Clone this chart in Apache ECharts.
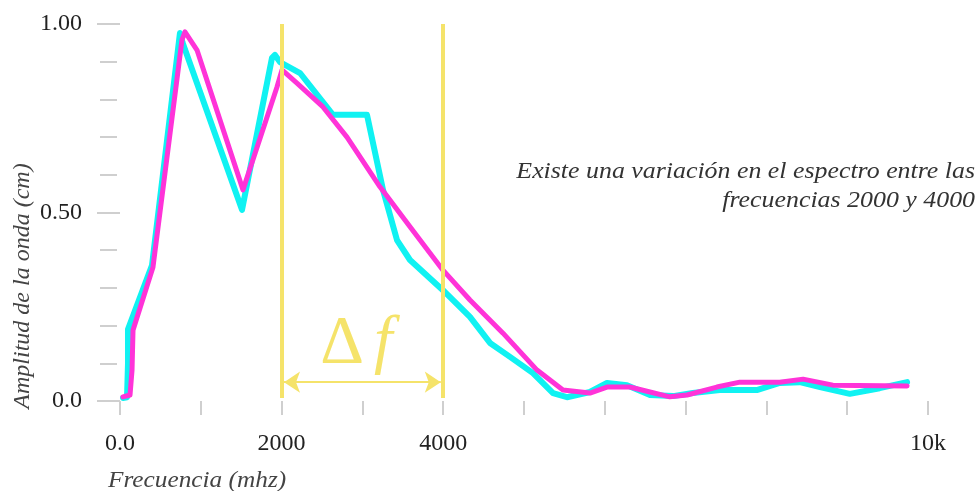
<!DOCTYPE html>
<html>
<head>
<meta charset="utf-8">
<script src="https://cdn.jsdelivr.net/npm/echarts@6/dist/echarts.min.js"></script>
<style>html,body{margin:0;padding:0;background:#fff;}#c{width:978px;height:491px;}</style>
</head>
<body>
<div id="c"></div>
<script>
// ---- data (frequency in mhz, amplitude in cm) ----
const cyanX = [37, 87, 99, 99, 396, 742, 775, 1510, 1881, 1918, 1980, 2228, 2636, 3057, 3255, 3428, 3589, 3997, 4331, 4579, 4827, 5111, 5359, 5532, 5816, 6027, 6275, 6559, 6844, 7088, 7422, 7881, 8165, 8414, 8664, 9033, 9402, 9741];
const cyanY = [0.008, 0.01, 0.1, 0.19, 0.36, 0.976, 0.95, 0.507, 0.91, 0.918, 0.899, 0.87, 0.759, 0.759, 0.56, 0.427, 0.374, 0.294, 0.223, 0.154, 0.117, 0.074, 0.021, 0.01, 0.024, 0.048, 0.042, 0.016, 0.013, 0.021, 0.029, 0.029, 0.048, 0.05, 0.037, 0.019, 0.034, 0.05];
const magentaX = [37, 124, 149, 161, 408, 767, 804, 953, 1522, 1943, 2005, 2190, 2512, 2809, 3217, 3589, 3997, 4331, 4740, 5161, 5482, 5816, 6027, 6310, 6559, 6804, 7018, 7387, 7671, 8165, 8454, 8823, 9741];
const magentaY = [0.011, 0.016, 0.082, 0.188, 0.355, 0.958, 0.979, 0.931, 0.56, 0.833, 0.878, 0.843, 0.78, 0.70, 0.568, 0.462, 0.347, 0.268, 0.18, 0.082, 0.029, 0.021, 0.037, 0.037, 0.024, 0.011, 0.016, 0.037, 0.05, 0.05, 0.058, 0.042, 0.04];
const bandStart = 2000, bandEnd = 4000, arrowY = 0.05;
const xTickValues = [0, 2000, 4000, 10000];
const xTickLabels = ['0.0', '2000', '4000', '10k'];
const yTickValues = [0, 0.5, 1];
const yTickLabels = ['0.0', '0.50', '1.00'];
const xName = 'Frecuencia (mhz)';
const yName = 'Amplitud de la onda (cm)';
const noteLines = ['Existe una variación en el espectro entre las', 'frecuencias 2000 y 4000'];

function pick(v, vals, labels) {
  for (let i = 0; i < vals.length; i++) if (Math.abs(v - vals[i]) < 1e-6) return labels[i];
  return '';
}
const zip = (xs, ys) => xs.map((x, i) => [x, ys[i]]);

const chart = echarts.init(document.getElementById('c'), null, {renderer: 'canvas'});
const serif = '"Liberation Serif", "Times New Roman", serif';
const yellow = '#f5e36a';
const tickColor = '#cfcfcf';

chart.setOption({
  animation: false,
  backgroundColor: '#ffffff',
  grid: {left: 120, right: 50, top: 24, bottom: 90},
  xAxis: {
    type: 'value', min: 0, max: 10000, interval: 1000, offset: 2,
    axisLine: {show: false},
    axisTick: {show: true, length: 14, lineStyle: {color: tickColor, width: 2}},
    splitLine: {show: false},
    axisLabel: {
      margin: 29, fontFamily: serif, fontSize: 24, color: '#222',
      formatter: v => pick(v, xTickValues, xTickLabels)
    }
  },
  yAxis: [{
    type: 'value', min: 0, max: 1, interval: 0.5, offset: 3,
    axisLine: {show: false},
    axisTick: {show: true, length: 23, lineStyle: {color: tickColor, width: 2}},
    splitLine: {show: false},
    axisLabel: {
      margin: 35, fontFamily: serif, fontSize: 24, color: '#222',
      formatter: v => pick(v, yTickValues, yTickLabels)
    }
  }, {
    type: 'value', min: 0, max: 1, interval: 0.1, offset: 3, position: 'left',
    axisLine: {show: false},
    axisTick: {show: true, length: 17, lineStyle: {color: tickColor, width: 2}},
    splitLine: {show: false},
    axisLabel: {show: false}
  }],
  series: [{
    type: 'line', name: 'cyan', data: zip(cyanX, cyanY), showSymbol: false,
    lineStyle: {color: '#10f2f2', width: 6, join: 'round', cap: 'round'},
    z: 3,
    markLine: {
      silent: true, symbol: ['none', 'none'], z: 10,
      lineStyle: {color: yellow, width: 4, type: 'solid'},
      label: {show: false},
      data: [
        [{coord: [bandStart, 0.008]}, {coord: [bandStart, 1]}],
        [{coord: [bandEnd, 0.008]}, {coord: [bandEnd, 1]}]
      ]
    }
  }, {
    type: 'line', name: 'magenta', data: zip(magentaX, magentaY), showSymbol: false,
    lineStyle: {color: '#ff33d8', width: 5, join: 'round', cap: 'round'},
    z: 4,
    markLine: {
      silent: true, symbol: ['arrow', 'arrow'], symbolSize: [16, 16],
      lineStyle: {color: yellow, width: 2, type: 'solid'},
      label: {
        show: true, position: 'middle', distance: 4, offset: [-6, 0],
        formatter: '{d|Δ}{f|f}',
        rich: {
          d: {fontFamily: serif, fontSize: 68, color: yellow, padding: [0, 10, 0, 0]},
          f: {fontFamily: serif, fontSize: 66, fontStyle: 'italic', color: yellow}
        }
      },
      data: [[{coord: [bandStart + 30, arrowY]}, {coord: [bandEnd - 30, arrowY]}]]
    }
  }],
  graphic: [
    {
      type: 'text', x: 23, y: 286, rotation: Math.PI / 2,
      style: {
        text: yName, fontFamily: serif, fontSize: 24, fontStyle: 'italic',
        fill: '#444', textAlign: 'center', textVerticalAlign: 'middle'
      }
    },
    {
      type: 'text', x: 108, y: 481, scaleX: 1.1,
      style: {
        text: xName, fontFamily: serif, fontSize: 23, fontStyle: 'italic',
        fill: '#444', textAlign: 'left', textVerticalAlign: 'middle'
      }
    },
    {
      type: 'text', x: 975, y: 172, scaleX: 1.125,
      style: {
        text: noteLines[0], fontFamily: serif, fontSize: 23, fontStyle: 'italic',
        fill: '#333', textAlign: 'right', textVerticalAlign: 'middle'
      }
    },
    {
      type: 'text', x: 975, y: 201, scaleX: 1.125,
      style: {
        text: noteLines[1], fontFamily: serif, fontSize: 23, fontStyle: 'italic',
        fill: '#333', textAlign: 'right', textVerticalAlign: 'middle'
      }
    }
  ]
});
</script>
</body>
</html>
